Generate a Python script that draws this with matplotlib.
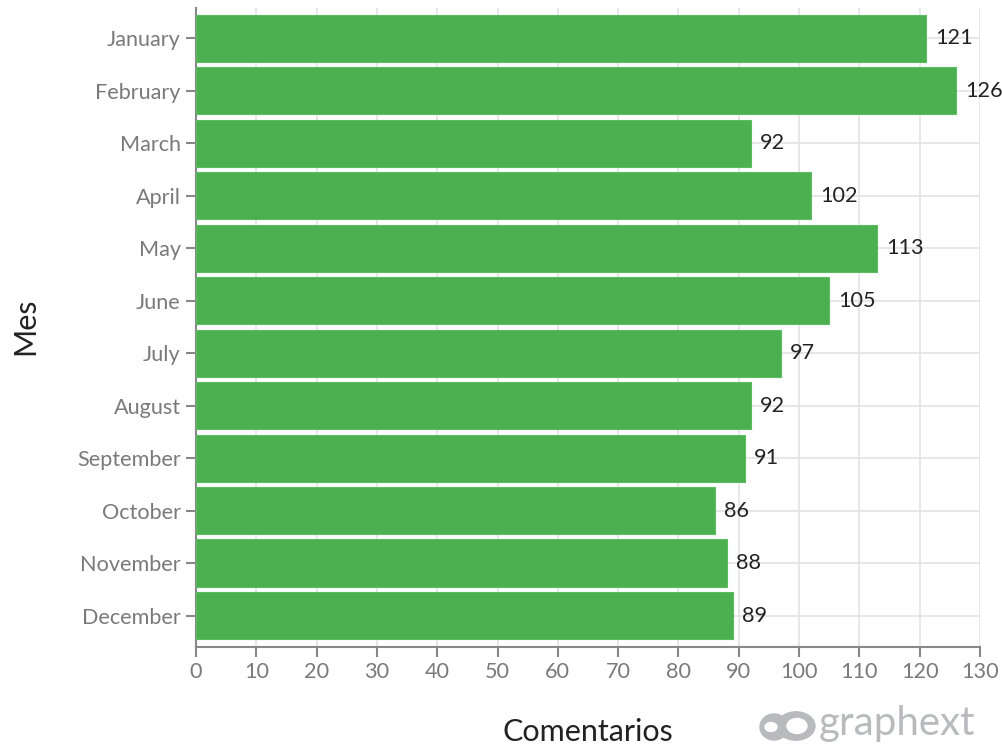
import matplotlib
matplotlib.use("Agg")
import matplotlib.pyplot as plt
from matplotlib.patches import Ellipse, Circle

months = ["January", "February", "March", "April", "May", "June", "July",
          "August", "September", "October", "November", "December"]
comentarios = [121, 126, 92, 102, 113, 105, 97, 92, 91, 86, 88, 89]
x_ticks = list(range(0, 131, 10))

plt.rcParams['font.family'] = ['Lato', 'DejaVu Sans']

fig = plt.figure(figsize=(10.03, 7.49), dpi=100)
W, H = 1003, 749
ax = fig.add_axes([196 / W, 1 - 647 / H, (980 - 196) / W, (647 - 8) / H])

y = list(range(len(months)))
bars = ax.barh(y, comentarios, height=0.9, color="#4caf50", edgecolor="#5bbd5f",
               linewidth=0.8, zorder=3)
for yi, v in zip(y, comentarios):
    ax.text(v + 1.5, yi, str(v), va="center", ha="left", fontsize=15.6,
            color="#222222", zorder=4)

ax.set_xlim(0, 130)
ax.set_ylim(len(months) - 0.4, -0.58)
ax.set_yticks(y)
ax.set_yticklabels(months)
ax.set_xticks(x_ticks)
ax.grid(True, color="#e3e3e3", linewidth=1.2, zorder=0)
for s in ["top", "right"]:
    ax.spines[s].set_visible(False)
for s in ["left", "bottom"]:
    ax.spines[s].set_color("#888888")
    ax.spines[s].set_linewidth(1.5)
ax.tick_params(axis="both", colors="#888888", labelcolor="#7a7a7a",
               labelsize=15.6, length=7, width=1.5, direction="out")
ax.tick_params(axis="y", pad=4)
ax.tick_params(axis="x", pad=4)

fig.text(25 / W, 1 - 326 / H, "Mes", rotation=90, ha="center", va="center",
         fontsize=22, color="#222222")
fig.text(588 / W, 1 - 732 / H, "Comentarios", ha="center", va="center",
         fontsize=22, color="#222222")

# watermark
wm = "#b9babe"
fig.text(819 / W, 1 - 724 / H, "graphext", ha="left", va="center",
         fontsize=29, color=wm)
fig.patches.append(Circle((796 / W, 1 - 726 / H), 19 / W,
                          transform=fig.transFigure, color=wm))
fig.patches.append(Ellipse((774 / W, 1 - 727 / H), 28 / W, 26 / H,
                           transform=fig.transFigure, color=wm))
fig.patches.append(Circle((797 / W, 1 - 726 / H), 10 / W,
                          transform=fig.transFigure, color="white"))
fig.patches.append(Circle((771 / W, 1 - 727 / H), 6 / W,
                          transform=fig.transFigure, color="white"))

fig.savefig("out.png", dpi=100, facecolor="white")
